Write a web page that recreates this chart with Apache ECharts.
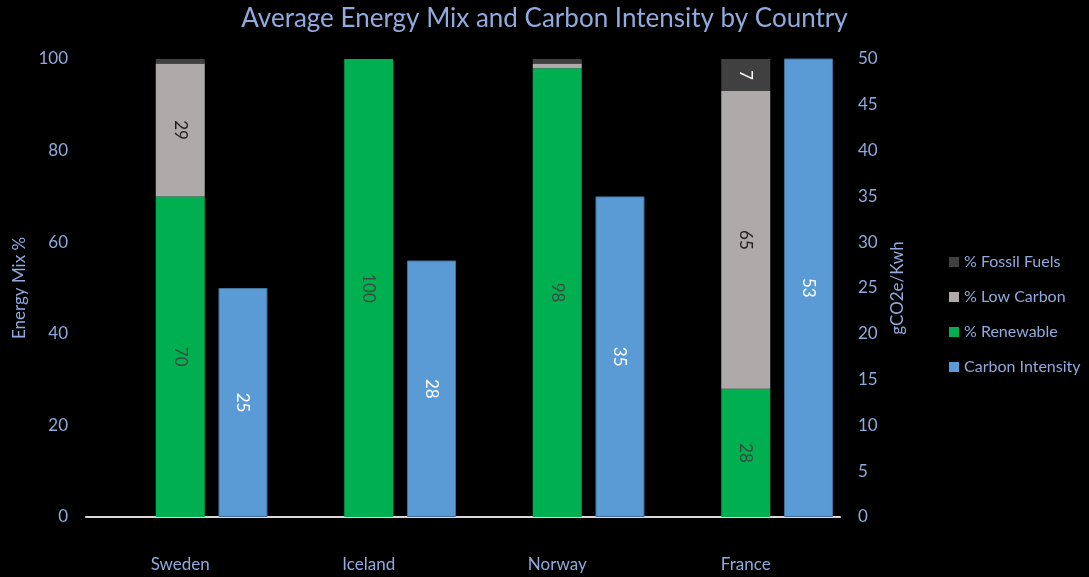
<!DOCTYPE html>
<html>
<head>
<meta charset="utf-8">
<script src="https://cdn.jsdelivr.net/npm/echarts@6/dist/echarts.min.js"></script>
<style>
  html, body { margin: 0; padding: 0; background: #000; }
  #chart { width: 1089px; height: 577px; }
</style>
</head>
<body>
<div id="chart"></div>
<script>
const countries = ['Sweden', 'Iceland', 'Norway', 'France'];
const renewable = [70, 100, 98, 28];
const lowCarbon = [29, 0, 1, 65];
const fossilFuels = [1, 0, 1, 7];
const carbonIntensity = [25, 28, 35, 53];

const textColor = '#8FAADC';
const fontFamily = 'Lato, "Open Sans", sans-serif';

// hide labels on slivers too thin to hold text
const smallHidden = p => (p.value >= 5 ? String(p.value) : '');

function barLabel(color) {
  return {
    show: true,
    position: 'inside',
    rotate: -90,
    color: color,
    fontSize: 17,
    fontFamily: fontFamily,
    formatter: smallHidden
  };
}

const chart = echarts.init(document.getElementById('chart'));
chart.setOption({
  backgroundColor: '#000',
  animation: false,
  title: {
    text: 'Average Energy Mix and Carbon Intensity by Country',
    left: 'center',
    top: 1,
    textStyle: { color: textColor, fontSize: 26, fontWeight: 'normal', fontFamily: fontFamily }
  },
  legend: {
    orient: 'vertical',
    left: 944,
    top: 249,
    itemWidth: 10,
    itemHeight: 10,
    itemGap: 19,
    icon: 'rect',
    itemStyle: { borderWidth: 0 },
    data: ['% Fossil Fuels', '% Low Carbon', '% Renewable', 'Carbon Intensity'],
    textStyle: { color: textColor, fontSize: 16, fontFamily: fontFamily }
  },
  grid: { left: 86, right: 249, top: 59, bottom: 60 },
  xAxis: {
    type: 'category',
    data: countries,
    axisLine: { lineStyle: { color: '#d9d9d9', width: 2 } },
    axisTick: { show: false },
    axisLabel: { color: textColor, fontSize: 17, margin: 39, fontFamily: fontFamily }
  },
  yAxis: [
    {
      type: 'value',
      min: 0, max: 100, interval: 20,
      name: 'Energy Mix %',
      nameLocation: 'middle',
      nameGap: 57,
      nameRotate: 90,
      nameTextStyle: { color: textColor, fontSize: 17, fontFamily: fontFamily },
      splitLine: { show: false },
      axisLine: { show: false },
      axisTick: { show: false },
      axisLabel: { color: textColor, fontSize: 17, margin: 18, fontFamily: fontFamily }
    },
    {
      type: 'value',
      min: 0, max: 50, interval: 5,
      name: 'gCO2e/Kwh',
      nameLocation: 'middle',
      nameGap: 48,
      nameRotate: 90,
      nameTextStyle: { color: textColor, fontSize: 17, fontFamily: fontFamily },
      splitLine: { show: false },
      axisLine: { show: false },
      axisTick: { show: false },
      axisLabel: { color: textColor, fontSize: 17, margin: 18, fontFamily: fontFamily }
    }
  ],
  series: [
    {
      // empty leading slot keeps the energy-mix stack centred on each country
      type: 'bar',
      data: [],
      barWidth: 49,
      barGap: '28%'
    },
    {
      name: '% Renewable',
      type: 'bar',
      stack: 'mix',
      data: renewable,
      barWidth: 49,
      barGap: '28%',
      itemStyle: { color: '#00B050' },
      label: barLabel('#3d4a3f')
    },
    {
      name: '% Low Carbon',
      type: 'bar',
      stack: 'mix',
      data: lowCarbon,
      barWidth: 49,
      barGap: '28%',
      itemStyle: { color: '#AEAAAA' },
      label: barLabel('#1f1f1f')
    },
    {
      name: '% Fossil Fuels',
      type: 'bar',
      stack: 'mix',
      data: fossilFuels,
      barWidth: 49,
      barGap: '28%',
      itemStyle: { color: '#404040' },
      label: barLabel('#ffffff')
    },
    {
      name: 'Carbon Intensity',
      type: 'bar',
      yAxisIndex: 1,
      data: carbonIntensity,
      barWidth: 49,
      barGap: '28%',
      clip: true,
      itemStyle: { color: '#5B9BD5', borderColor: '#41719C', borderWidth: 1 },
      label: barLabel('#ffffff')
    }
  ]
});
</script>
</body>
</html>
